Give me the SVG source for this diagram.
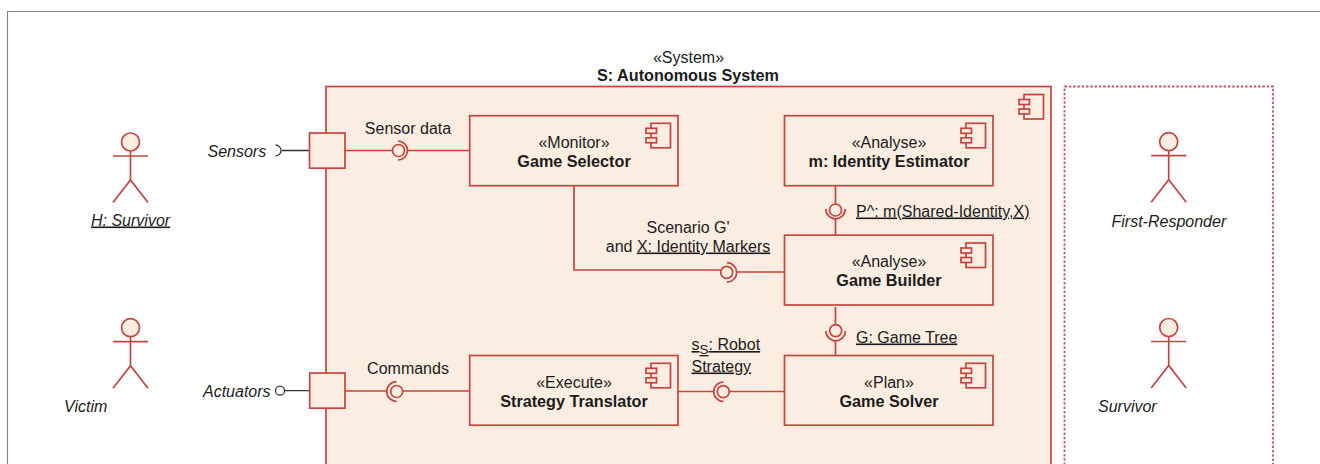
<svg xmlns="http://www.w3.org/2000/svg" width="1320" height="464" viewBox="0 0 1320 464">
<defs>
<style>
.r{stroke:#c4443f;stroke-width:1.7;fill:none}
.f{stroke:#c4443f;stroke-width:1.7;fill:#fbede1}
.k{stroke:#333;stroke-width:1.3;fill:none}
text{font-family:"Liberation Sans",Arial,sans-serif;fill:#1c1c1c;font-size:16px}
.c{text-anchor:middle}
.b{font-weight:bold;font-size:16.2px}
.i{font-style:italic}
.u{text-decoration:underline}
</style>
<g id="ci"><rect class="f" x="5" y="0" width="19.500" height="24.500"/><rect class="f" x="0" y="5" width="10.500" height="5"/><rect class="f" x="0" y="14.500" width="10.500" height="5"/></g>
<g id="actor"><circle class="f" cx="0" cy="9" r="9"/><path class="r" d="M0 18V47M-17.500 23H17.500M-17.500 69.500L0 47L17.500 69.500"/></g>
</defs>
<rect width="1320" height="464" fill="#fff"/>
<path d="M1320 11.500H7.500V464" fill="none" stroke="#858585" stroke-width="1.100"/>
<g id="system">
<rect class="f" x="326" y="86.500" width="725" height="400"/>
<use href="#ci" x="1019" y="94.500"/>
<text class="c" x="688.500" y="62.700">«System»</text>
<text class="c b" x="688" y="80.700">S: Autonomous System</text>
</g>
<rect id="boundary" x="1064.500" y="86.500" width="208.500" height="400" fill="none" stroke="#c75468" stroke-width="1.800" stroke-dasharray="2.500 1.800"/>
<g id="connectors">
<path class="k" d="M282 150.500H310M285 390.700H310"/>
<path class="k" d="M275.500 145A5.500 5.500 0 0 1 275.500 156"/>
<circle class="k" cx="280" cy="390.700" r="4.500"/>
<path class="r" d="M345 150.500H392.500M407.500 150.500H471M345 391H387M403 391H470M574 186V270H720.500M737 272H785M835.500 186V204M835.500 219V235M835.500 307V324.500M835.500 341V355M678 391.500H714M729.500 391.500H785"/>
<circle class="r" cx="398.500" cy="150.500" r="6"/><path class="r" d="M398 141A9.500 9.500 0 0 1 398 160"/>
<circle class="r" cx="396.700" cy="391.500" r="6"/><path class="r" d="M396.500 381.700A9.800 9.800 0 0 0 396.500 401.300"/>
<circle class="r" cx="726.700" cy="272.300" r="6"/><path class="r" d="M727 262.700A9.700 9.700 0 0 1 727 282.100"/>
<circle class="r" cx="835.500" cy="210" r="6"/><path class="r" d="M825.700 209A9.800 9.800 0 0 0 845.300 209"/>
<circle class="r" cx="835.700" cy="330.700" r="6"/><path class="r" d="M825.900 331A9.800 9.800 0 0 0 845.500 331"/>
<circle class="r" cx="723.300" cy="391.700" r="6"/><path class="r" d="M723.500 382A9.700 9.700 0 0 0 723.500 401.500"/>
</g>
<g id="labels">
<text class="c" x="408" y="133.500">Sensor data</text>
<text class="c" x="408" y="373.500">Commands</text>
<text class="c" x="688" y="232.500">Scenario G'</text>
<text class="c" x="688" y="251.500">and <tspan class="u">X: Identity Markers</tspan></text>
<text class="u" x="856" y="216.500">P^: m(Shared-Identity,X)</text>
<text class="u" x="856" y="342.500">G: Game Tree</text>
<text class="u" x="691.500" y="350">s<tspan font-size="13.500" dy="4">S</tspan><tspan dy="-4">: Robot</tspan></text>
<text class="u" x="691.500" y="371.500">Strategy</text>
</g>
<g id="port-sensors"><rect class="f" x="309.500" y="133" width="35.500" height="35.200"/><text class="i" x="207.500" y="157">Sensors</text></g>
<g id="port-actuators"><rect class="f" x="309.700" y="373" width="35.300" height="35.200"/><text class="i" x="203" y="396.500">Actuators</text></g>
<g id="game-selector"><rect class="f" x="469.700" y="115.700" width="208.300" height="70"/><use href="#ci" x="646" y="123.300"/><text class="c" x="574" y="147.600">«Monitor»</text><text class="c b" x="574" y="166.500">Game Selector</text></g>
<g id="identity-estimator"><rect class="f" x="784.500" y="115.700" width="208.500" height="70"/><use href="#ci" x="961" y="123.300"/><text class="c" x="889" y="147.600">«Analyse»</text><text class="c b" x="889" y="166.500">m: Identity Estimator</text></g>
<g id="game-builder"><rect class="f" x="784.500" y="235.200" width="208.500" height="69.800"/><use href="#ci" x="961" y="243"/><text class="c" x="889" y="266.600">«Analyse»</text><text class="c b" x="889" y="285.500">Game Builder</text></g>
<g id="strategy-translator"><rect class="f" x="469.700" y="355.500" width="208.300" height="69.700"/><use href="#ci" x="646" y="363.300"/><text class="c" x="574" y="387.600">«Execute»</text><text class="c b" x="574" y="406.500">Strategy Translator</text></g>
<g id="game-solver"><rect class="f" x="784.500" y="355.500" width="208.500" height="69.700"/><use href="#ci" x="961" y="363.300"/><text class="c" x="889" y="387.600">«Plan»</text><text class="c b" x="889" y="406.500">Game Solver</text></g>
<g id="h-survivor"><use href="#actor" x="130.500" y="133"/><text class="i u" x="91" y="225.500">H: Survivor</text></g>
<g id="victim"><use href="#actor" x="130.500" y="318.700"/><text class="i" x="64" y="411.500">Victim</text></g>
<g id="first-responder"><use href="#actor" x="1168.700" y="132.700"/><text class="i" x="1111.500" y="226.500">First-Responder</text></g>
<g id="survivor"><use href="#actor" x="1168.700" y="318.500"/><text class="i" x="1098" y="411.500">Survivor</text></g>
</svg>
